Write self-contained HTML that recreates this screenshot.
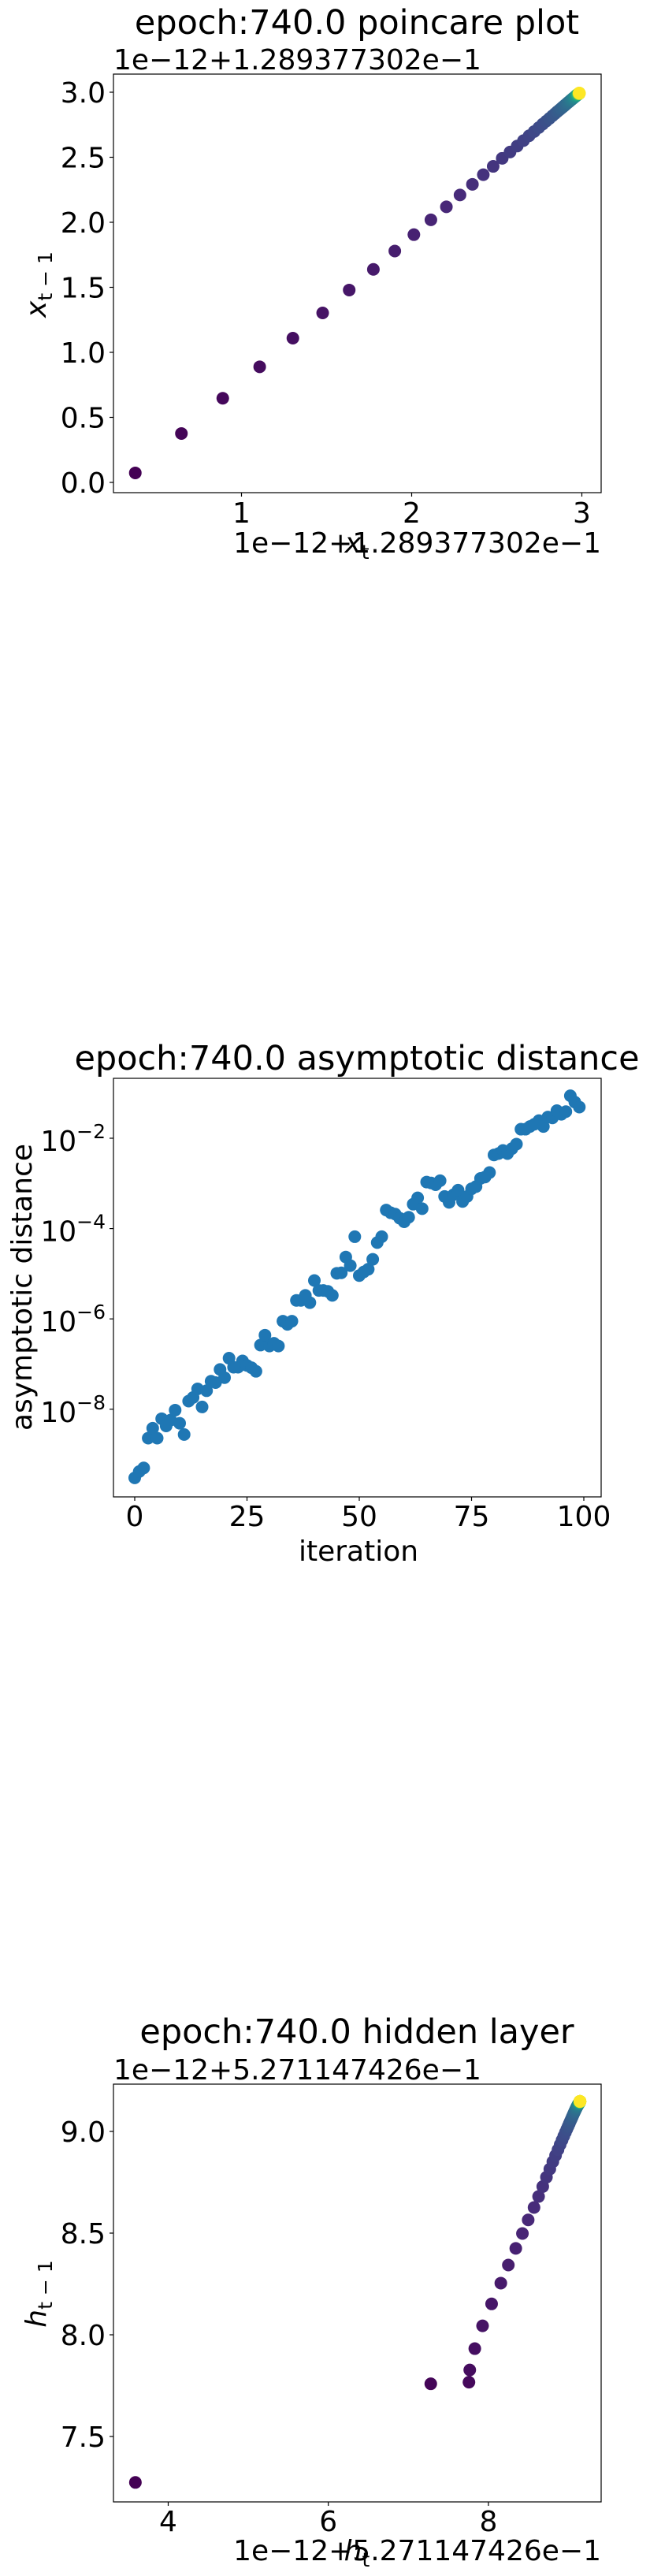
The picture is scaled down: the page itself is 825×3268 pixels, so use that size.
<!DOCTYPE html>
<html><head><meta charset="utf-8"><style>
html,body{margin:0;padding:0;background:#fff;}
svg{display:block;font-family:"DejaVu Sans","Liberation Sans",sans-serif;}
</style></head><body>
<svg id="fig" width="825" height="3268" viewBox="0 0 825 3268" xmlns="http://www.w3.org/2000/svg"></svg>
<script>
// ---------- Data: poincare plot ----------
const poincareX = [0.376,0.647,0.89,1.107,1.302,1.477,1.633,1.775,1.901,2.013,2.113,2.204,2.284,2.357,2.421,2.479,2.532,2.578,2.62,2.657,2.69,2.72,2.747,2.77,2.791,2.81,2.827,2.842,2.855,2.867,2.878,2.888,2.897,2.905,2.912,2.918,2.924,2.929,2.934,2.938,2.942,2.946,2.949,2.952,2.955,2.958,2.96,2.962,2.964,2.966,2.968,2.969,2.97,2.971,2.972,2.973,2.974,2.975,2.976,2.977,2.978,2.979,2.979,2.98,2.98,2.98,2.981,2.981,2.981,2.981,2.982,2.982,2.982,2.982,2.982,2.983,2.983,2.983,2.983,2.983,2.983,2.984,2.984,2.984,2.984,2.984,2.984,2.984,2.984,2.985,2.985,2.985,2.985,2.985,2.985,2.985,2.985,2.985,2.985];
const poincareY = [0.073,0.376,0.647,0.889,1.109,1.303,1.479,1.638,1.779,1.905,2.019,2.119,2.21,2.292,2.366,2.43,2.492,2.54,2.586,2.628,2.665,2.698,2.728,2.755,2.778,2.799,2.818,2.835,2.85,2.863,2.875,2.886,2.896,2.905,2.913,2.92,2.926,2.932,2.937,2.942,2.946,2.95,2.954,2.957,2.96,2.963,2.966,2.968,2.97,2.972,2.974,2.976,2.977,2.978,2.979,2.98,2.981,2.982,2.983,2.984,2.985,2.986,2.986,2.987,2.987,2.987,2.988,2.988,2.988,2.988,2.989,2.989,2.989,2.989,2.989,2.99,2.99,2.99,2.99,2.99,2.99,2.991,2.991,2.991,2.991,2.991,2.991,2.991,2.991,2.992,2.992,2.992,2.992,2.992,2.992,2.993,2.993,2.993,2.994];
const poincareXTicks = [1,2,3];
const poincareYTicks = [0.0,0.5,1.0,1.5,2.0,2.5,3.0];

// ---------- Data: asymptotic distance (log10 values) ----------
const distIter = Array.from({length:100},(_,i)=>i);
const distLog10 = [-9.52,-9.38,-9.30,-8.64,-8.42,-8.64,-8.21,-8.37,-8.24,-8.02,-8.31,-8.56,-7.82,-7.74,-7.55,-7.95,-7.59,-7.38,-7.41,-7.12,-7.30,-6.87,-7.07,-7.07,-6.93,-7.03,-7.08,-7.16,-6.58,-6.36,-6.60,-6.54,-6.60,-6.05,-6.12,-6.05,-5.59,-5.59,-5.48,-5.64,-5.15,-5.37,-5.37,-5.39,-5.48,-4.99,-4.98,-4.63,-4.82,-4.18,-5.04,-4.96,-4.90,-4.68,-4.31,-4.18,-3.59,-3.65,-3.68,-3.77,-3.85,-3.75,-3.46,-3.32,-3.56,-2.97,-2.99,-3.03,-2.94,-3.29,-3.42,-3.25,-3.15,-3.40,-3.29,-3.12,-3.07,-2.89,-2.86,-2.76,-2.37,-2.34,-2.27,-2.34,-2.23,-2.13,-1.80,-1.80,-1.74,-1.69,-1.61,-1.74,-1.53,-1.55,-1.39,-1.47,-1.41,-1.06,-1.20,-1.31];
const distXTicks = [0,25,50,75,100];
const distYTicks = [-8,-6,-4,-2];

// ---------- Data: hidden layer ----------
const hiddenX = [3.59,7.28,7.757,7.767,7.83,7.927,8.04,8.155,8.249,8.342,8.425,8.497,8.57,8.627,8.679,8.725,8.767,8.805,8.839,8.869,8.896,8.92,8.942,8.962,8.98,8.996,9.01,9.023,9.035,9.046,9.056,9.065,9.073,9.08,9.087,9.093,9.098,9.103,9.107,9.111,9.115,9.118,9.121,9.124,9.126,9.128,9.13,9.132,9.134,9.136,9.138,9.138,9.139,9.139,9.139,9.14,9.14,9.14,9.14,9.14,9.141,9.141,9.141,9.141,9.141,9.141,9.142,9.142,9.142,9.142,9.142,9.142,9.142,9.142,9.143,9.143,9.143,9.143,9.143,9.143,9.143,9.143,9.143,9.143,9.143,9.144,9.144,9.144,9.144,9.144,9.144,9.144,9.144,9.144,9.144,9.144,9.144,9.144,9.144];
const hiddenY = [7.274,7.759,7.767,7.827,7.932,8.044,8.152,8.254,8.343,8.425,8.498,8.565,8.626,8.68,8.729,8.775,8.815,8.851,8.882,8.91,8.935,8.957,8.977,8.995,9.011,9.025,9.038,9.05,9.06,9.07,9.079,9.087,9.094,9.1,9.106,9.111,9.115,9.119,9.122,9.125,9.128,9.13,9.132,9.134,9.135,9.136,9.138,9.139,9.14,9.141,9.142,9.142,9.143,9.143,9.143,9.144,9.144,9.144,9.144,9.144,9.145,9.145,9.145,9.145,9.145,9.145,9.146,9.146,9.146,9.146,9.146,9.146,9.146,9.146,9.147,9.147,9.147,9.147,9.147,9.147,9.147,9.147,9.147,9.147,9.147,9.148,9.148,9.148,9.148,9.148,9.148,9.148,9.148,9.148,9.148,9.148,9.148,9.148,9.148];
const hiddenXTicks = [4,6,8];
const hiddenYTicks = [7.5,8.0,8.5,9.0];

const NS="http://www.w3.org/2000/svg";
const fig=document.getElementById('fig');
function mk(tag,attrs,parent){const e=document.createElementNS(NS,tag);for(const k in attrs)e.setAttribute(k,attrs[k]);(parent||fig).appendChild(e);return e;}
const VIR=[[68,1,84],[72,40,120],[62,74,137],[49,104,142],[38,130,142],[31,158,137],[53,183,121],[109,205,89],[180,222,44],[253,231,37]];
function viridis(t){t=Math.max(0,Math.min(1,t));const p=t*(VIR.length-1);const i=Math.min(VIR.length-2,Math.floor(p));const f=p-i;const a=VIR[i],b=VIR[i+1];return `rgb(${Math.round(a[0]+(b[0]-a[0])*f)},${Math.round(a[1]+(b[1]-a[1])*f)},${Math.round(a[2]+(b[2]-a[2])*f)})`;}

const L=144,R=763,MR=8;
function frame(g,top,bot){
  const r=mk('rect',{x:L,y:top,width:R-L,height:bot-top,fill:'none',stroke:'#000','stroke-width':1.2},g);
  
  
}
function text(g,x,y,str,size,anchor,name){
  const t=mk('text',{x:x,y:y,'font-size':size,'text-anchor':anchor||'middle',fill:'#000'},g);
  t.textContent=str;
  
  
  return t;
}
function xTicks(g,ticks,sx,bot,labelY,fmt){
  ticks.forEach(v=>{const x=sx(v);
    const l=mk('line',{x1:x,x2:x,y1:bot,y2:bot+5,stroke:'#000','stroke-width':1.2},g);
    
    
    text(g,x,labelY,fmt(v),36,'middle','x-tick-label');});
}
function yTicks(g,ticks,sy,fmt){
  ticks.forEach(v=>{const y=sy(v);
    const l=mk('line',{x1:L-5,x2:L,y1:y,y2:y,stroke:'#000','stroke-width':1.2},g);
    
    
    text(g,L-10,y+13,fmt(v),36,'end','y-tick-label');});
}
function subLabel(g,x,y,base,sub,rot,name){
  const t=mk('text',{x:x,y:y,'font-size':36,'text-anchor':'middle',fill:'#000',transform:rot?`rotate(-90 ${x} ${y})`:''},g);
  
  
  const a=mk('tspan',{'font-style':'italic'},t);a.textContent=base;
  const b=mk('tspan',{'font-size':25,dy:8},t);b.textContent=sub;
}

// ---------- Chart 1 ----------
(function(){
  const g=mk('g',{});
  const top=94,bot=625;
  const sx=v=>306.5+(v-1)*216, sy=v=>612-v*165;
  text(g,453,43,'epoch:740.0 poincare plot',43,'middle','chart-title');
  text(g,L,88,'1e\u221212+1.289377302e\u22121',36,'start','y-offset-text');
  frame(g,top,bot);
  const n=Math.min(poincareX.length,poincareY.length);
  for(let i=0;i<n;i++){const c=mk('circle',{cx:sx(poincareX[i]),cy:sy(poincareY[i]),r:MR,fill:viridis(i/(n-1))},g);
    
    }
  xTicks(g,poincareXTicks,sx,bot,663,v=>String(v));
  yTicks(g,poincareYTicks,sy,v=>v.toFixed(1));
  subLabel(g,453,701,'x','t',false,'x-axis-title');
  text(g,R,701,'1e\u221212+1.289377302e\u22121',36,'end','x-offset-text');
  subLabel(g,58,361,'x','t \u2212 1',true,'y-axis-title');
})();

// ---------- Chart 2 ----------
(function(){
  const g=mk('g',{});
  const top=1368,bot=1899;
  const sx=v=>171+v*5.7, sy=v=>1444-(v+2)*57.3;
  text(g,453,1357,'epoch:740.0 asymptotic distance',43,'middle','chart-title');
  frame(g,top,bot);
  const n=Math.min(distIter.length,distLog10.length);
  for(let i=0;i<n;i++){const c=mk('circle',{cx:sx(distIter[i]),cy:sy(distLog10[i]),r:MR,fill:'#1f77b4'},g);
    
    }
  xTicks(g,distXTicks,sx,bot,1936,v=>String(v));
  distYTicks.forEach(v=>{const y=sy(v);
    const l=mk('line',{x1:L-5,x2:L,y1:y,y2:y,stroke:'#000','stroke-width':1.2},g);
    
    
    const t=mk('text',{x:L-10,y:y+16,'font-size':36,'text-anchor':'end',fill:'#000'},g);
    
    
    const a=mk('tspan',{},t);a.textContent='10';
    const b=mk('tspan',{'font-size':25,dy:-16},t);b.textContent='\u2212'+Math.abs(v);});
  text(g,455,1980,'iteration',36,'middle','x-axis-title');
  const yl=text(g,40,1633,'asymptotic distance',36,'middle','y-axis-title');
  yl.setAttribute('transform','rotate(-90 40 1633)');
})();

// ---------- Chart 3 ----------
(function(){
  const g=mk('g',{});
  const top=2644,bot=3174;
  const sx=v=>213.5+(v-4)*101.6, sy=v=>2704-(v-9)*258;
  text(g,453,2592,'epoch:740.0 hidden layer',43,'middle','chart-title');
  text(g,L,2638,'1e\u221212+5.271147426e\u22121',36,'start','y-offset-text');
  frame(g,top,bot);
  const n=Math.min(hiddenX.length,hiddenY.length);
  for(let i=0;i<n;i++){const c=mk('circle',{cx:sx(hiddenX[i]),cy:sy(hiddenY[i]),r:MR,fill:viridis(i/(n-1))},g);
    
    }
  xTicks(g,hiddenXTicks,sx,bot,3211,v=>String(v));
  yTicks(g,hiddenYTicks,sy,v=>v.toFixed(1));
  subLabel(g,453,3248,'h','t',false,'x-axis-title');
  text(g,R,3248,'1e\u221212+5.271147426e\u22121',36,'end','x-offset-text');
  subLabel(g,58,2910,'h','t \u2212 1',true,'y-axis-title');
})();
</script>
</body></html>
